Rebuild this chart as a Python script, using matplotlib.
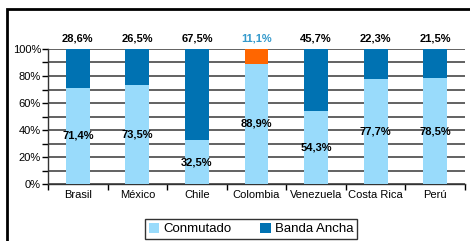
import numpy as np
import matplotlib.pyplot as plt
from matplotlib.patches import Rectangle
from matplotlib.ticker import MultipleLocator, FuncFormatter

plt.rcParams['font.family'] = ['Liberation Sans', 'DejaVu Sans']

countries = ['Brasil', 'México', 'Chile', 'Colombia', 'Venezuela', 'Costa Rica', 'Perú']
conmutado = [71.4, 73.5, 32.5, 88.9, 54.3, 77.7, 78.5]
banda_ancha = [28.6, 26.5, 67.5, 11.1, 45.7, 22.3, 21.5]

light = '#99dbfb'
dark = '#0072b2'
orange = '#ff6600'

fig = plt.figure(figsize=(4.7, 2.41), dpi=100)
ax = fig.add_axes([48 / 470, 1 - 184 / 241, (465 - 48) / 470, 135 / 241])

x = np.arange(len(countries))
top_colors = [orange if c == 'Colombia' else dark for c in countries]
ax.bar(x, conmutado, width=0.4, color=light, label='Conmutado', zorder=3)
ax.bar(x, banda_ancha, width=0.4, bottom=conmutado, color=top_colors, label='Banda Ancha', zorder=3)

for i, c in enumerate(countries):
    ax.text(i, conmutado[i] / 2, f"{conmutado[i]:.1f}%".replace('.', ','),
            ha='center', va='center', fontsize=8, fontweight='bold', zorder=4)
    col = '#3399cc' if c == 'Colombia' else 'black'
    ax.text(i, 108, f"{banda_ancha[i]:.1f}%".replace('.', ','),
            ha='center', va='center', fontsize=8, fontweight='bold', color=col)

ax.set_xlim(-0.5, len(countries) - 0.5)
ax.set_ylim(0, 100)
ax.yaxis.set_major_locator(MultipleLocator(20))
ax.yaxis.set_minor_locator(MultipleLocator(10))
ax.yaxis.set_major_formatter(FuncFormatter(lambda v, p: f"{int(v)}%"))
ax.grid(axis='y', which='both', color='#555555', linewidth=1.3, zorder=0)
ax.set_xticks(x)
ax.set_xticklabels(countries)
ax.set_xticks(np.arange(len(countries) + 1) - 0.5, minor=True)
ax.tick_params(axis='x', which='major', length=0, labelsize=8, pad=4)
ax.tick_params(axis='x', which='minor', length=4, width=1, direction='out')
ax.tick_params(axis='y', which='both', length=4, width=1, labelsize=8, pad=1)
for s in ['top', 'right']:
    ax.spines[s].set_visible(False)
ax.spines['left'].set_color('#333333')
ax.spines['bottom'].set_color('#333333')
ax.spines['left'].set_linewidth(1)
ax.spines['bottom'].set_linewidth(1)

leg = fig.legend(loc='center', bbox_to_anchor=(251 / 470, 1 - 229 / 241), ncol=2,
                 frameon=True, fancybox=False, fontsize=9.5, handlelength=0.8,
                 handleheight=0.8, handletextpad=0.3, columnspacing=2.2,
                 borderpad=0.3)
leg.get_frame().set_edgecolor('black')
leg.get_frame().set_linewidth(1)

fig.patches.append(Rectangle((7 / 470, -0.1), 1.2, 1 - 9 / 241 + 0.1,
                             transform=fig.transFigure, fill=False,
                             edgecolor='black', linewidth=2))

fig.savefig('out.png', dpi=100)
